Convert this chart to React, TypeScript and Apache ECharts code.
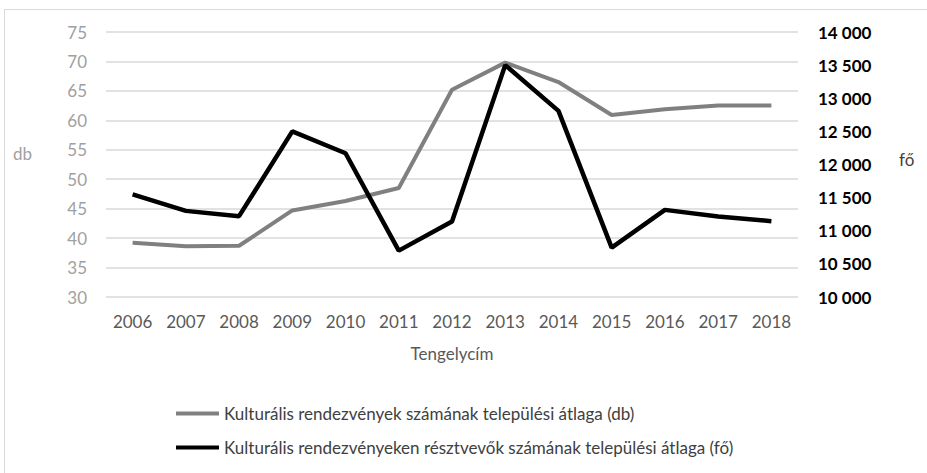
import React, { useEffect, useRef } from "react";
import * as echarts from "echarts";

const years = ["2006", "2007", "2008", "2009", "2010", "2011", "2012", "2013", "2014", "2015", "2016", "2017", "2018"];
const eventsAvg = [39.2, 38.6, 38.7, 44.7, 46.3, 48.5, 65.2, 69.8, 66.5, 60.9, 61.9, 62.5, 62.5];
const participantsAvg = [11550, 11300, 11220, 12500, 12170, 10700, 11140, 13500, 12810, 10745, 11315, 11215, 11145];
const seriesNames = [
  "Kulturális rendezvények számának települési átlaga (db)",
  "Kulturális rendezvényeken résztvevők számának települési átlaga (fő)",
];
const leftAxisName = "db";
const rightAxisName = "fő";
const xAxisName = "Tengelycím";

const FONT = "Lato";
const FS = 17;

const fmtThousands = (v: number) => String(v).replace(/\B(?=(\d{3})+(?!\d))/g, " ");

export default function App() {
  const ref = useRef<HTMLDivElement>(null);
  useEffect(() => {
    if (!ref.current) return;
    const chart = echarts.init(ref.current, undefined, { renderer: "svg" });
    chart.setOption({
      animation: false,
      backgroundColor: "#ffffff",
      textStyle: { fontFamily: FONT },
      grid: { left: 106, right: 129, top: 32, bottom: 176 },
      xAxis: {
        type: "category",
        data: years,
        boundaryGap: true,
        axisLine: { show: false },
        axisTick: { show: false },
        axisLabel: { color: "#595959", fontSize: FS, fontFamily: FONT, margin: 16 },
        name: xAxisName,
        nameLocation: "middle",
        nameGap: 48,
        nameTextStyle: { color: "#595959", fontSize: FS, fontFamily: FONT },
      },
      yAxis: [
        {
          type: "value",
          min: 30,
          max: 75,
          interval: 5,
          axisLine: { show: false },
          axisTick: { show: false },
          axisLabel: { color: "#a0a0a0", fontSize: FS, fontFamily: FONT, margin: 19 },
          splitLine: { show: true, lineStyle: { color: "#d9d9d9", width: 1.5 } },
        },
        {
          type: "value",
          min: 10000,
          max: 14000,
          interval: 500,
          position: "right",
          axisLine: { show: false },
          axisTick: { show: false },
          splitLine: { show: false },
          axisLabel: {
            color: "#000000",
            fontWeight: "bold",
            fontSize: FS,
            fontFamily: FONT,
            margin: 20,
            formatter: (v: number) => fmtThousands(v),
          },
        },
      ],
      legend: {
        orient: "vertical",
        left: 171,
        top: 400,
        itemWidth: 43,
        itemHeight: 4,
        itemGap: 17,
        icon: "rect",
        textStyle: { color: "#404040", fontSize: FS, fontFamily: FONT },
        data: seriesNames,
      },
      graphic: [
        {
          type: "rect",
          shape: { x: 4.5, y: 9.5, width: 1000, height: 1000 },
          style: { fill: "none", stroke: "#d9d9d9", lineWidth: 1 },
          silent: true,
          z: -10,
        },
        {
          type: "text",
          x: 13,
          y: 153,
          style: { text: leftAxisName, fill: "#a0a0a0", font: `${FS}px "${FONT}"`, textAlign: "left", textVerticalAlign: "middle" },
        },
        {
          type: "text",
          x: 899,
          y: 159,
          style: { text: rightAxisName, fill: "#404040", font: `${FS}px "${FONT}"`, textAlign: "left", textVerticalAlign: "middle" },
        },
      ],
      series: [
        {
          name: seriesNames[0],
          type: "line",
          yAxisIndex: 0,
          data: eventsAvg,
          symbol: "none",
          lineStyle: { color: "#808080", width: 4 },
          itemStyle: { color: "#808080" },
        },
        {
          name: seriesNames[1],
          type: "line",
          yAxisIndex: 1,
          data: participantsAvg,
          symbol: "none",
          lineStyle: { color: "#000000", width: 4.5 },
          itemStyle: { color: "#000000" },
        },
      ],
    });
    return () => chart.dispose();
  }, []);
  return <div ref={ref} style={{ position: "fixed", left: 0, top: 0, width: 927, height: 473 }} />;
}
